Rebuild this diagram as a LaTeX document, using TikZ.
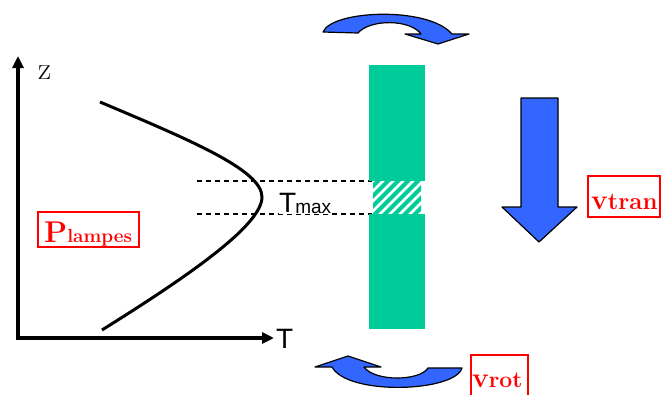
\documentclass[tikz,border=0pt]{standalone}
\usepackage{fontspec}
\newfontfamily\arial{Liberation Sans}
\usetikzlibrary{arrows.meta}
\definecolor{bargreen}{RGB}{0,204,153}
\definecolor{arrowblue}{RGB}{51,102,255}
\tikzset{
  axisline/.style={line width=4pt,-{Triangle[length=12pt,width=11pt]}},
  guide/.style={line width=1.2pt,dash pattern=on 5pt off 4pt},
  bluearrow/.style={fill=arrowblue,draw=black,line width=1.2pt,line join=round},
  redbox/.style={draw=red,line width=1.3pt},
  redtext/.style={text=red,inner sep=0pt,anchor=base west},
  sanslab/.style={font=\arial,inner sep=0pt}
}
\begin{document}
\begin{tikzpicture}[x=1pt,y=-1pt]
\useasboundingbox (0,0) rectangle (663,394);
% axes
\coordinate (O) at (18,338);
\coordinate (ztop) at (18,56);
\coordinate (tend) at (274,338);
\draw[axisline] (O) -- (ztop);
\draw[axisline] ([xshift=-2pt]O) -- (tend);
\node[inner sep=0pt,anchor=base west] (zlab) at (38,79) {\fontsize{32}{32}\selectfont z};
\node[sanslab,anchor=west] (tlab) at (276,339) {\fontsize{28}{28}\selectfont T};
% profile curve
\draw[line width=3pt] (100,102) .. controls (190,140) and (262,170) .. (262,197)
   .. controls (262,225) and (190,275) .. (102,330);
% guide lines
\coordinate (g1a) at (197,181); \coordinate (g1b) at (372,181);
\coordinate (g2a) at (197,214); \coordinate (g2b) at (372,214);
\draw[guide] (g1a) -- (g1b);
\draw[guide] (g2a) -- (g2b);
\node[sanslab,anchor=base west,fill=white] (tmax) at (279,212)
  {\fontsize{28}{28}\selectfont T\kern-1pt\raisebox{-1.5pt}{\fontsize{19}{19}\selectfont max}};
% green bar
\fill[bargreen] (369,65) rectangle (425,181);
\fill[bargreen] (369,214) rectangle (425,329);
\begin{scope}
  \clip (373,181) rectangle (421,214);
  \foreach \s in {-40,-30,...,80} {
    \draw[bargreen,line width=4pt] (373+\s,216) -- (373+\s+37,179);
  }
\end{scope}
% translation arrow
\draw[bluearrow] (521,98) -- (558,98) -- (558,207) -- (577,207) -- (539,242)
   -- (502,207) -- (521,207) -- cycle;
% top rotation arrow
\draw[bluearrow] (323,32) .. controls (332,10) and (428,6) .. (452,34)
   -- (469,34) -- (438,44) -- (405,34) -- (421,34)
   .. controls (410,19) and (370,19) .. (358,33) -- cycle;
% bottom rotation arrow
\draw[bluearrow] (315,367) -- (348,356) -- (381,367) -- (364,367)
   .. controls (375,382) and (420,381) .. (428,368) -- (462,368)
   .. controls (455,392) and (348,396) .. (332,367) -- cycle;
% labels
\draw[redbox] (38,212) rectangle (139,247);
\node[redtext] (plab) at (44,242) {\bfseries\fontsize{30}{30}\selectfont P\fontsize{19}{19}\selectfont lampes};
\draw[redbox] (588,176) rectangle (660,217);
\node[redtext] (vtran) at (591,209) {\bfseries\fontsize{28}{28}\selectfont v\fontsize{24}{24}\selectfont tran};
\draw[redbox] (471,355) rectangle (528,400);
\node[redtext] (vrot) at (472,387) {\bfseries\fontsize{28}{28}\selectfont v\fontsize{23}{23}\selectfont rot};
\end{tikzpicture}
\end{document}
